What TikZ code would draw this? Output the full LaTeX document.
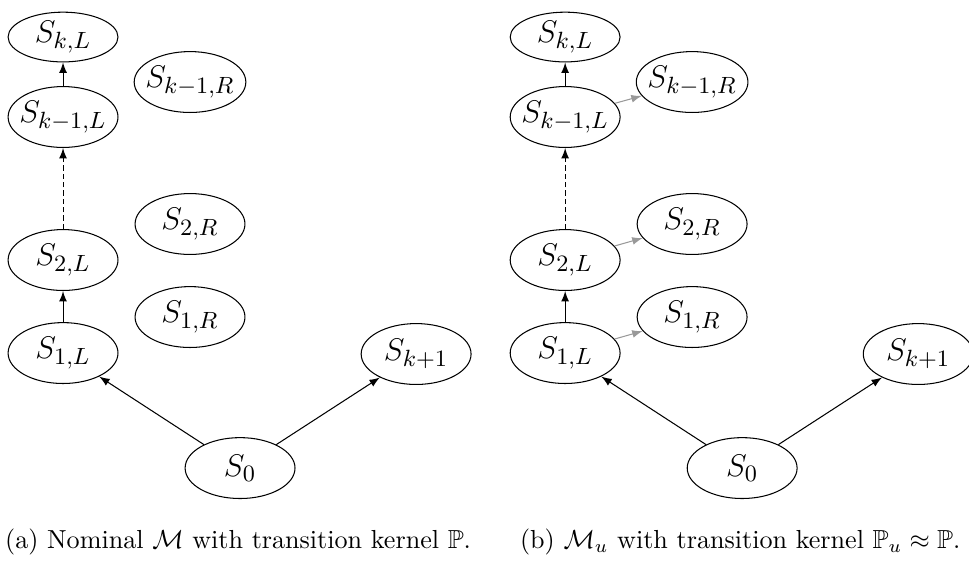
\documentclass[tikz,border=0pt]{standalone}
\usepackage{amsmath,amssymb}
\usetikzlibrary{arrows,shapes.geometric}

\tikzset{
    state/.style={draw, ellipse, inner xsep=-2pt, inner ysep=0pt, minimum width=1.48cm, minimum height=0.82cm, font=\fontsize{12.8}{15}\selectfont},
    trans/.style={-latex, thin},
    perturb/.style={-latex, thin, black!40},
    skipped/.style={-latex, thin, dash pattern=on 2pt off 1.2pt}
}

\begin{document}
\begin{tikzpicture}
    \useasboundingbox (0,0) rectangle (13.05,7.624);

    % (a) nominal model
    \node[state, minimum height=0.67cm] (a-kL) at (0.849,7.125) {$S_{k,L}$};
    \node[state] (a-km1L) at (0.849,6.048) {$S_{k-1,L}$};
    \node[state] (a-km1R) at (2.559,6.519) {$S_{k-1,R}$};
    \node[state] (a-2L) at (0.849,4.122) {$S_{2,L}$};
    \node[state] (a-2R) at (2.559,4.607) {$S_{2,R}$};
    \node[state] (a-1L) at (0.849,2.869) {$S_{1,L}$};
    \node[state] (a-1R) at (2.559,3.354) {$S_{1,R}$};
    \node[state] (a-k1) at (5.604,2.856) {$S_{k+1}$};
    \node[state] (a-0) at (3.233,1.320) {$S_0$};
    \draw[trans](a-0)--(a-1L);
    \draw[trans](a-0)--(a-k1);
    \draw[trans](a-1L)--(a-2L);
    \draw[skipped](a-2L)--(a-km1L);
    \draw[trans](a-km1L)--(a-kL);
    \node[anchor=base] (a-cap) at (3.206,0.242) {(a) Nominal $\mathcal{M}$ with transition kernel $\mathbb{P}$.};

    % (b) perturbed model
    \node[state, minimum height=0.67cm] (b-kL) at (7.611,7.125) {$S_{k,L}$};
    \node[state] (b-km1L) at (7.611,6.048) {$S_{k-1,L}$};
    \node[state] (b-km1R) at (9.321,6.519) {$S_{k-1,R}$};
    \node[state] (b-2L) at (7.611,4.122) {$S_{2,L}$};
    \node[state] (b-2R) at (9.321,4.607) {$S_{2,R}$};
    \node[state] (b-1L) at (7.611,2.869) {$S_{1,L}$};
    \node[state] (b-1R) at (9.321,3.354) {$S_{1,R}$};
    \node[state] (b-k1) at (12.366,2.856) {$S_{k+1}$};
    \node[state] (b-0) at (9.995,1.320) {$S_0$};
    \draw[trans](b-0)--(b-1L);
    \draw[trans](b-0)--(b-k1);
    \draw[trans](b-1L)--(b-2L);
    \draw[skipped](b-2L)--(b-km1L);
    \draw[trans](b-km1L)--(b-kL);
    \draw[perturb](b-1L)--(b-1R);
    \draw[perturb](b-2L)--(b-2R);
    \draw[perturb](b-km1L)--(b-km1R);
    \node[anchor=base] (b-cap) at (9.968,0.242) {(b) $\mathcal{M}_u$ with transition kernel $\mathbb{P}_u \approx \mathbb{P}$.};
\end{tikzpicture}
\end{document}
